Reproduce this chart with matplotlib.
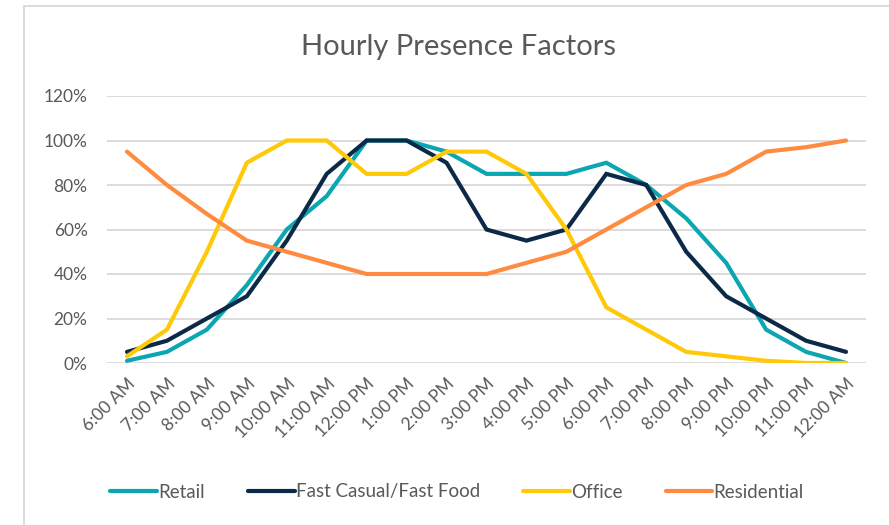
import matplotlib
matplotlib.use('Agg')
import matplotlib.pyplot as plt
from matplotlib.lines import Line2D
from matplotlib.ticker import FuncFormatter

hours = ['6:00 AM', '7:00 AM', '8:00 AM', '9:00 AM', '10:00 AM', '11:00 AM',
         '12:00 PM', '1:00 PM', '2:00 PM', '3:00 PM', '4:00 PM', '5:00 PM',
         '6:00 PM', '7:00 PM', '8:00 PM', '9:00 PM', '10:00 PM', '11:00 PM',
         '12:00 AM']

retail = [0.01, 0.05, 0.15, 0.35, 0.60, 0.75, 1.00, 1.00, 0.95, 0.85, 0.85, 0.85,
          0.90, 0.80, 0.65, 0.45, 0.15, 0.05, 0.00]
fast_food = [0.05, 0.10, 0.20, 0.30, 0.55, 0.85, 1.00, 1.00, 0.90, 0.60, 0.55, 0.60,
             0.85, 0.80, 0.50, 0.30, 0.20, 0.10, 0.05]
office = [0.03, 0.15, 0.50, 0.90, 1.00, 1.00, 0.85, 0.85, 0.95, 0.95, 0.85, 0.60,
          0.25, 0.15, 0.05, 0.03, 0.01, 0.00, 0.00]
residential = [0.95, 0.80, 0.67, 0.55, 0.50, 0.45, 0.40, 0.40, 0.40, 0.40, 0.45, 0.50,
               0.60, 0.70, 0.80, 0.85, 0.95, 0.97, 1.00]

series = [('Retail', retail, '#0AA6B2'),
          ('Fast Casual/Fast Food', fast_food, '#0C2A48'),
          ('Office', office, '#FFC907'),
          ('Residential', residential, '#FF8B40')]

plt.rcParams['font.family'] = ['Lato', 'DejaVu Sans']
txt = '#595959'

fig = plt.figure(figsize=(8.89, 5.25), dpi=100)
ax = fig.add_axes([107 / 889, 1 - 363 / 525, (866 - 107) / 889, (363 - 96) / 525])

x = list(range(len(hours)))
for name, vals, col in series:
    ax.plot(x, vals, color=col, lw=3, label=name, solid_capstyle='round',
            solid_joinstyle='miter')

ax.set_xlim(-0.5, len(hours) - 0.5)
ax.set_ylim(0, 1.2)
ax.set_yticks([0, 0.2, 0.4, 0.6, 0.8, 1.0, 1.2])
ax.yaxis.set_major_formatter(FuncFormatter(lambda v, p: '{:.0f}%'.format(v * 100)))
ax.set_xticks(x)
ax.set_xticklabels(hours, rotation=45, ha='right', rotation_mode='anchor')
ax.tick_params(axis='both', length=0, colors=txt, labelsize=12.5)
ax.tick_params(axis='y', pad=14)
ax.tick_params(axis='x', pad=9)
ax.grid(axis='y', color='#D9D9D9', lw=1.3)
ax.set_axisbelow(True)
for s in ax.spines.values():
    s.set_visible(False)

fig.text(459 / 889, 1 - 47 / 525, 'Hourly Presence Factors', ha='center', va='center',
         fontsize=21, color=txt)

fig.legend(loc='center', bbox_to_anchor=(457 / 889, 1 - 492 / 525), ncol=4,
           frameon=False, fontsize=13.5, labelcolor=txt, handlelength=2.5,
           handletextpad=0.05, columnspacing=2.3)

# chart frame
fig.add_artist(Line2D([24 / 889, 24 / 889], [0, 1 - 6 / 525], color='#D9D9D9', lw=1.3))
fig.add_artist(Line2D([24 / 889, 1], [1 - 6 / 525, 1 - 6 / 525], color='#D9D9D9', lw=1.3))

fig.savefig('out.png', dpi=100, facecolor='white')
